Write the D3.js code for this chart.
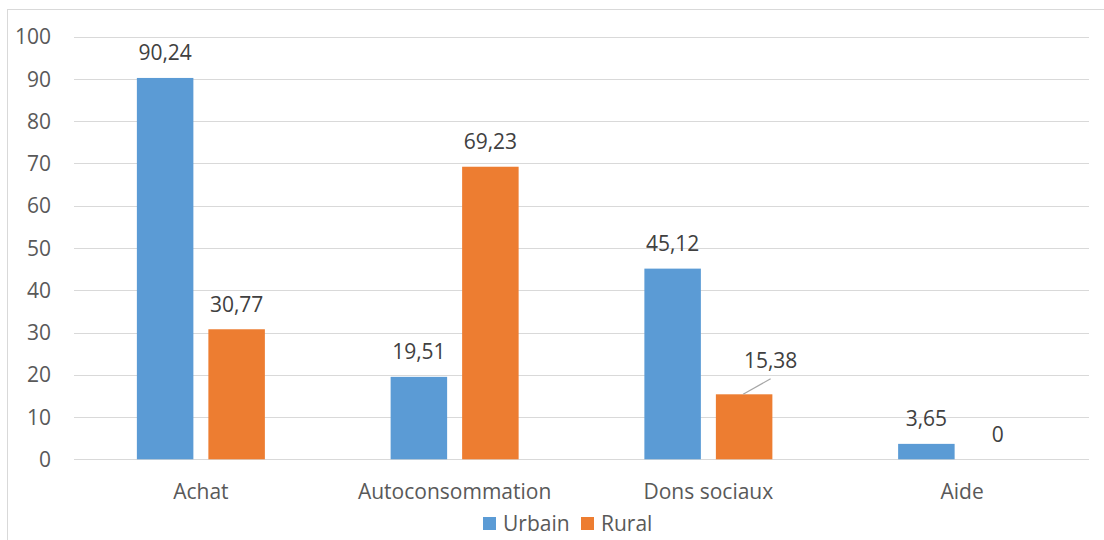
<!DOCTYPE html>
<html><head><meta charset="utf-8">
<script src="https://cdn.jsdelivr.net/npm/d3@7"></script>
<style>body{margin:0;background:#fff;}svg{display:block;font-family:"Open Sans",Lato,sans-serif;}</style>
</head><body>
<svg id="c" width="1104" height="540"></svg>
<script>
const categories = ["Achat","Autoconsommation","Dons sociaux","Aide"];
const seriesNames = ["Urbain","Rural"];
const urbain = [90.24,19.51,45.12,3.65];
const rural = [30.77,69.23,15.38,0];
const yTicks = [0,10,20,30,40,50,60,70,80,90,100];
const colors = ["#5B9BD5","#ED7D31"];
const fmt = v => String(v).replace(".", ",");

const svg = d3.select("#c");
svg.append("rect").attr("x",7.5).attr("y",9.5).attr("width",1110).attr("height",560)
  .attr("fill","none").attr("stroke","#d9d9d9").attr("stroke-width",1);

const x0=74,x1=1089,yTop=36.7,yBot=459.3;
const x = d3.scaleBand().domain(categories).range([x0,x1]).paddingInner(0).paddingOuter(0);
const y = d3.scaleLinear().domain([0,100]).range([yBot,yTop]);
const barW=56.5, gap=15;
const xs = d3.scaleBand().domain(seriesNames).range([-(barW+gap/2), barW+gap/2])
  .paddingInner(gap/(barW+gap)).paddingOuter(0);
const FS=21;

svg.append("g").selectAll("line").data(yTicks).join("line")
  .attr("x1",x0).attr("x2",x1).attr("y1",d=>Math.round(y(d))+0.5).attr("y2",d=>Math.round(y(d))+0.5)
  .attr("stroke","#d9d9d9").attr("stroke-width",1);

svg.append("g").selectAll("text").data(yTicks).join("text")
  .attr("x",51).attr("y",d=>y(d)).attr("dy","0.36em").attr("text-anchor","end")
  .attr("font-size",FS).attr("fill","#595959").text(d=>d);

const data = categories.map((c,i)=>({c, vals:[{s:"Urbain",v:urbain[i]},{s:"Rural",v:rural[i]}]}));
const g = svg.append("g").selectAll("g").data(data).join("g")
  .attr("transform",d=>`translate(${x(d.c)+x.bandwidth()/2},0)`);
g.selectAll("rect").data(d=>d.vals).join("rect")
  .attr("x",d=>xs(d.s)).attr("width",xs.bandwidth())
  .attr("y",d=>y(d.v)).attr("height",d=>yBot-y(d.v))
  .attr("fill",(d,i)=>colors[i]);

g.each(function(d){
  const gg=d3.select(this);
  d.vals.forEach((e,i)=>{
    const cx = xs(e.s)+xs.bandwidth()/2;
    let lx=cx, ly=y(e.v)-17.5;
    if(d.c==="Dons sociaux" && e.s==="Rural"){
      lx = cx+26.5; ly = y(e.v)-26;
      gg.append("line").attr("x1",cx-1).attr("y1",y(e.v)).attr("x2",cx+26.5).attr("y2",y(e.v)-15.5)
        .attr("stroke","#a6a6a6").attr("stroke-width",1.2);
    }
    gg.append("text").attr("x",lx).attr("y",ly).attr("text-anchor","middle")
      .attr("font-size",FS).attr("fill","#404040").text(fmt(e.v));
  });
});

svg.append("g").selectAll("text").data(categories).join("text")
  .attr("x",d=>x(d)+x.bandwidth()/2).attr("y",499).attr("text-anchor","middle")
  .attr("font-size",FS).attr("fill","#595959").text(d=>d);

const leg = svg.append("g");
const lx=[483,581];
seriesNames.forEach((s,i)=>{
  leg.append("rect").attr("x",lx[i]).attr("y",517).attr("width",13).attr("height",13).attr("fill",colors[i]);
  leg.append("text").attr("x",lx[i]+20).attr("y",530.5).attr("font-size",FS).attr("fill","#595959").text(s);
});
</script>
</body></html>
